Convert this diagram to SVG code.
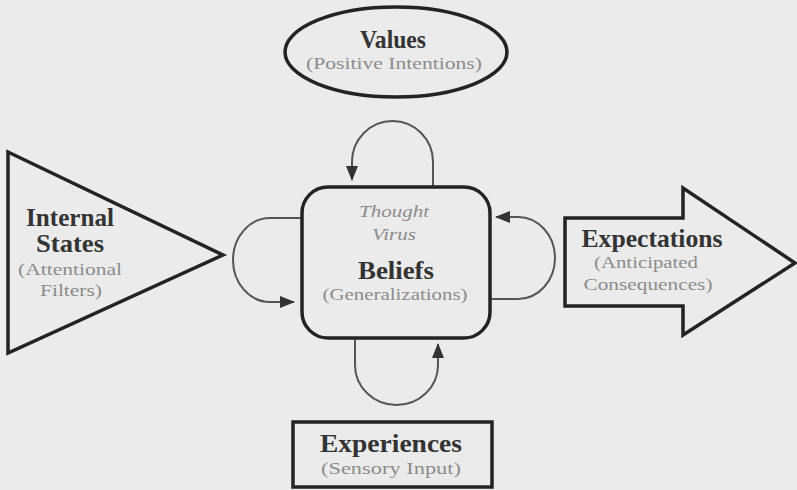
<svg xmlns="http://www.w3.org/2000/svg" width="797" height="490" viewBox="0 0 797 490">
<defs>
<style>
.shape{fill:none;stroke:#232323;stroke-width:3.5;stroke-linejoin:miter}
.loop{fill:none;stroke:#555;stroke-width:2}
text{font-family:'Liberation Serif','Times New Roman',serif;text-anchor:middle}
.b{font-weight:bold;font-size:25px;fill:#333}
.s{font-size:17px;fill:#8c8c8c}
.i{font-style:italic;font-size:17px;fill:#8c8c8c}
</style>
<marker id="ah" viewBox="0 0 15 12" refX="14" refY="6" markerWidth="15" markerHeight="12" markerUnits="userSpaceOnUse" orient="auto">
<path d="M0,0 L15,6 L0,12 Z" fill="#333"/>
</marker>
</defs>
<rect x="0" y="0" width="797" height="490" fill="#ebebeb"/>
<g id="connectors">
<path class="loop" d="M433,187 L433,162 A40.5,41 0 0 0 352,162 L352,180" marker-end="url(#ah)"/>
<path class="loop" d="M302,218 L270,218 A37,42 0 0 0 270,302 L294,302" marker-end="url(#ah)"/>
<path class="loop" d="M490,299 L518,299 A37,41 0 0 0 518,217 L496,217" marker-end="url(#ah)"/>
<path class="loop" d="M355,338 L355,365 A41.5,40 0 0 0 438,365 L438,344" marker-end="url(#ah)"/>
</g>
<g id="values">
<ellipse class="shape" cx="396" cy="52" rx="111" ry="45"/>
<text class="b" x="393" y="48" font-size="24" textLength="66" lengthAdjust="spacingAndGlyphs">Values</text>
<text class="s" x="394" y="69" textLength="176" lengthAdjust="spacingAndGlyphs">(Positive Intentions)</text>
</g>
<g id="beliefs">
<rect class="shape" x="302" y="187" width="188" height="151" rx="26" ry="26" fill="#efefef"/>
<text class="i" x="394" y="217" textLength="70" lengthAdjust="spacingAndGlyphs">Thought</text>
<text class="i" x="394" y="240" textLength="44" lengthAdjust="spacingAndGlyphs">Virus</text>
<text class="b" x="396" y="279" textLength="76" lengthAdjust="spacingAndGlyphs">Beliefs</text>
<text class="s" x="395" y="300" textLength="145" lengthAdjust="spacingAndGlyphs">(Generalizations)</text>
</g>
<g id="internal-states">
<path class="shape" d="M8,152 L223,255 L8,353 Z"/>
<text class="b" x="70" y="226" font-size="22" textLength="88" lengthAdjust="spacingAndGlyphs">Internal</text>
<text class="b" x="70" y="252" font-size="22" textLength="68" lengthAdjust="spacingAndGlyphs">States</text>
<text class="s" x="70" y="275" textLength="104" lengthAdjust="spacingAndGlyphs">(Attentional</text>
<text class="s" x="71" y="296" textLength="62" lengthAdjust="spacingAndGlyphs">Filters)</text>
</g>
<g id="expectations">
<path class="shape" d="M565,218 L683,218 L683,188 L795,263 L683,335 L683,306 L565,306 Z"/>
<text class="b" x="652" y="247" textLength="141" lengthAdjust="spacingAndGlyphs">Expectations</text>
<text class="s" x="646" y="268" textLength="104" lengthAdjust="spacingAndGlyphs">(Anticipated</text>
<text class="s" x="648" y="290" textLength="129" lengthAdjust="spacingAndGlyphs">Consequences)</text>
</g>
<g id="experiences">
<rect class="shape" x="293" y="422" width="199" height="65" stroke-width="4.5"/>
<text class="b" x="391" y="452" font-size="23" textLength="142" lengthAdjust="spacingAndGlyphs">Experiences</text>
<text class="s" x="391" y="474" font-size="16" textLength="140" lengthAdjust="spacingAndGlyphs">(Sensory Input)</text>
</g>
</svg>
